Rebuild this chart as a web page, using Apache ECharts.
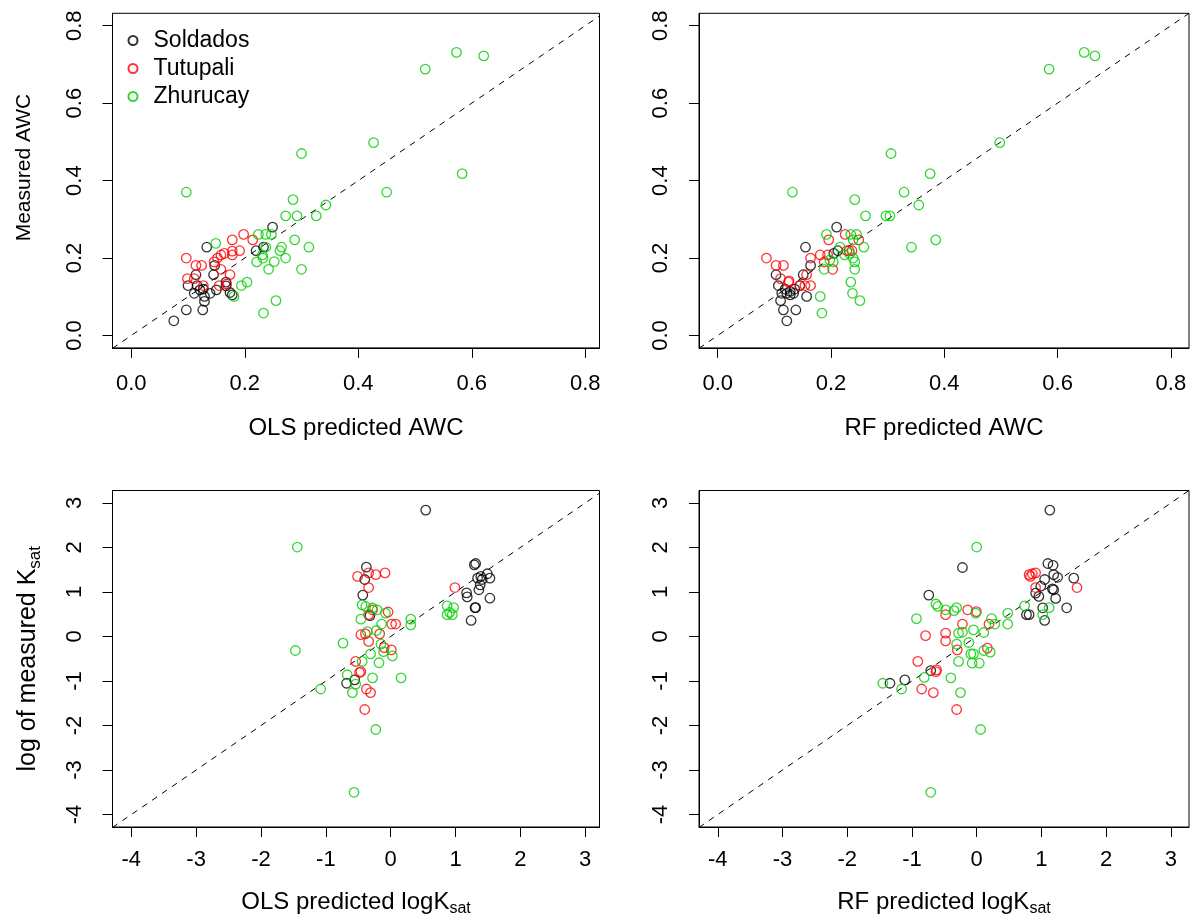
<!DOCTYPE html>
<html><head><meta charset="utf-8">
<script src="https://cdn.jsdelivr.net/npm/echarts@6/dist/echarts.min.js"></script>
<style>html,body{margin:0;padding:0;background:#fff}#c{width:1192px;height:920px}</style>
</head><body><div id="c"></div>
<script>
const sites = ['Soldados', 'Tutupali', 'Zhurucay'];
const siteColors = ['#000000', '#FF0000', '#00CD00'];
const awcTicks = [0, 0.2, 0.4, 0.6, 0.8];
const kTicks = [-4, -3, -2, -1, 0, 1, 2, 3];
const awcRangeY = [-0.032, 0.832];
const kRangeY = [-4.28, 3.28];
const awcRangeXLeft = [-0.033, 0.825];
const awcRangeXRight = [-0.033, 0.832];
const kRangeXLeft = [-4.29, 3.22];
const kRangeXRight = [-4.29, 3.28];

// Panel 1: OLS predicted AWC (x) vs measured AWC (y)
const olsAwcSoldados = [[0.249,0.280],[0.220,0.219],[0.233,0.228],[0.133,0.228],[0.147,0.181],[0.114,0.157],[0.145,0.157],[0.167,0.138],[0.100,0.129],[0.116,0.129],[0.127,0.120],[0.139,0.109],[0.111,0.109],[0.129,0.101],[0.129,0.088],[0.174,0.111],[0.178,0.105],[0.097,0.066],[0.126,0.066],[0.075,0.038],[0.167,0.128],[0.121,0.118],[0.150,0.118]];
const olsAwcTutupali = [[0.097,0.200],[0.178,0.247],[0.198,0.261],[0.214,0.247],[0.114,0.181],[0.124,0.181],[0.099,0.147],[0.111,0.147],[0.152,0.200],[0.158,0.208],[0.164,0.212],[0.178,0.218],[0.191,0.219],[0.178,0.208],[0.158,0.171],[0.174,0.157],[0.146,0.190],[0.127,0.129],[0.155,0.129],[0.168,0.133]];
const olsAwcZhurucay = [[0.573,0.731],[0.621,0.722],[0.518,0.688],[0.427,0.498],[0.300,0.470],[0.583,0.418],[0.097,0.370],[0.450,0.370],[0.285,0.351],[0.343,0.337],[0.272,0.309],[0.292,0.309],[0.326,0.309],[0.224,0.261],[0.237,0.261],[0.247,0.261],[0.149,0.238],[0.288,0.247],[0.313,0.228],[0.237,0.228],[0.265,0.228],[0.262,0.219],[0.231,0.208],[0.221,0.190],[0.232,0.200],[0.252,0.191],[0.272,0.200],[0.242,0.171],[0.300,0.171],[0.204,0.138],[0.194,0.129],[0.181,0.101],[0.255,0.090],[0.233,0.058]];

// Panel 2: RF predicted AWC (x) vs measured AWC (y)
const rfAwcSoldados = [[0.210,0.280],[0.155,0.228],[0.212,0.219],[0.205,0.212],[0.103,0.157],[0.151,0.157],[0.164,0.181],[0.107,0.129],[0.119,0.120],[0.128,0.114],[0.134,0.109],[0.122,0.109],[0.136,0.120],[0.145,0.129],[0.157,0.101],[0.111,0.090],[0.116,0.066],[0.138,0.066],[0.122,0.038],[0.128,0.105],[0.113,0.109]];
const rfAwcTutupali = [[0.086,0.200],[0.103,0.181],[0.116,0.181],[0.111,0.147],[0.125,0.138],[0.196,0.247],[0.225,0.261],[0.249,0.247],[0.164,0.200],[0.181,0.208],[0.194,0.208],[0.188,0.190],[0.203,0.171],[0.232,0.219],[0.237,0.219],[0.157,0.157],[0.145,0.129],[0.164,0.129],[0.154,0.129],[0.126,0.141],[0.228,0.219]];
const rfAwcZhurucay = [[0.647,0.731],[0.666,0.722],[0.585,0.688],[0.498,0.498],[0.306,0.470],[0.375,0.418],[0.132,0.370],[0.329,0.370],[0.242,0.351],[0.355,0.337],[0.261,0.309],[0.297,0.309],[0.304,0.309],[0.192,0.261],[0.235,0.261],[0.245,0.261],[0.385,0.247],[0.342,0.228],[0.258,0.228],[0.216,0.228],[0.239,0.247],[0.233,0.212],[0.224,0.208],[0.239,0.200],[0.204,0.190],[0.242,0.190],[0.188,0.171],[0.242,0.171],[0.235,0.138],[0.238,0.109],[0.251,0.090],[0.181,0.101],[0.184,0.058],[0.198,0.195]];

// Panel 3: OLS predicted logKsat (x) vs log of measured Ksat (y)
const olsKSoldados = [[0.54,2.84],[1.29,1.61],[1.31,1.64],[1.49,1.41],[1.34,1.31],[1.41,1.28],[1.53,1.31],[1.38,1.16],[1.36,1.05],[1.17,0.98],[1.18,0.89],[1.53,0.86],[1.30,0.65],[1.31,0.65],[1.24,0.36],[1.39,1.35],[-0.375,1.56],[-0.40,1.28],[-0.43,0.93],[-0.32,0.47],[-0.68,-1.05],[-0.555,-0.975]];
const olsKTutupali = [[-0.51,1.35],[-0.34,1.43],[-0.23,1.39],[-0.087,1.43],[-0.34,1.10],[0.99,1.10],[-0.28,0.60],[-0.04,0.55],[-0.34,0.49],[0.015,0.28],[0.077,0.28],[-0.46,0.04],[-0.39,0.06],[-0.17,0.06],[-0.34,-0.11],[-0.10,-0.25],[0.01,-0.30],[-0.54,-0.56],[-0.46,-0.79],[-0.48,-0.81],[-0.375,-1.18],[-0.31,-1.26],[-0.40,-1.64]];
const olsKZhurucay = [[-1.44,2.01],[-1.47,-0.315],[-0.44,0.71],[-0.385,0.675],[-0.28,0.64],[-0.21,0.60],[-0.08,0.525],[-0.46,0.39],[-0.14,0.28],[0.31,0.39],[0.31,0.26],[-0.36,0.11],[-0.22,0.135],[-0.735,-0.15],[-0.15,-0.17],[-0.11,-0.34],[0.026,-0.435],[-0.31,-0.39],[-0.44,-0.56],[-0.18,-0.59],[-0.67,-0.86],[-0.28,-0.93],[0.16,-0.93],[-1.08,-1.18],[-0.54,-1.07],[-0.59,-1.26],[-0.23,-2.09],[-0.565,-3.50],[0.87,0.69],[0.97,0.65],[0.87,0.49],[0.95,0.49],[0.91,0.54]];

// Panel 4: RF predicted logKsat (x) vs log of measured Ksat (y)
const rfKSoldados = [[1.13,2.84],[1.10,1.64],[1.18,1.60],[-0.22,1.55],[1.19,1.39],[1.25,1.33],[1.05,1.28],[1.50,1.31],[0.99,1.13],[1.17,1.07],[1.19,1.05],[0.91,0.975],[0.96,0.90],[1.22,0.855],[-0.74,0.93],[1.02,0.645],[1.39,0.645],[0.77,0.49],[0.81,0.49],[1.05,0.36],[-0.71,-0.765],[-1.11,-0.975],[-1.34,-1.05]];
const rfKTutupali = [[0.81,1.39],[0.86,1.41],[0.91,1.43],[0.83,1.35],[0.91,1.10],[1.55,1.10],[-0.14,0.60],[-0.005,0.56],[-0.48,0.49],[-0.22,0.28],[0.19,0.28],[-0.79,0.02],[-0.48,0.075],[-0.48,-0.10],[-0.30,-0.30],[0.165,-0.26],[-0.91,-0.56],[-0.63,-0.79],[-0.62,-0.75],[-0.85,-1.18],[-0.67,-1.26],[-0.31,-1.64]];
const rfKZhurucay = [[0.0,2.01],[-1.45,-1.05],[-0.63,0.73],[-0.60,0.675],[-0.48,0.60],[-0.35,0.58],[-0.31,0.65],[-0.015,0.525],[-0.93,0.40],[0.23,0.40],[0.48,0.525],[0.74,0.69],[1.12,0.65],[1.02,0.49],[0.48,0.28],[0.28,0.28],[-0.05,0.15],[0.11,0.09],[-0.28,0.075],[-0.22,0.10],[-0.12,-0.135],[-0.31,-0.17],[0.11,-0.315],[0.21,-0.35],[-0.09,-0.39],[-0.05,-0.39],[-0.28,-0.56],[-0.07,-0.60],[0.04,-0.60],[-0.40,-0.93],[-0.81,-0.92],[-1.16,-1.18],[-0.25,-1.26],[0.06,-2.09],[-0.71,-3.50]];

const FONT = '"Liberation Sans", Arial, sans-serif';

const panels = [
  {grid:{left:112.5, top:13.3, width:487, height:334.6}, xRange:awcRangeXLeft, yRange:awcRangeY, ticks:awcTicks, fmt:v=>v.toFixed(1),
   data:[olsAwcSoldados, olsAwcTutupali, olsAwcZhurucay], xName:'OLS predicted AWC', yName:'Measured AWC',
   xLabelMargin:25, xNameGap:68, yLabelMargin:27, yNameGap:78, yNameSize:21, yNamePad:[0,0,0,26]},
  {grid:{left:699, top:13.3, width:490, height:334.6}, xRange:awcRangeXRight, yRange:awcRangeY, ticks:awcTicks, fmt:v=>v.toFixed(1),
   data:[rfAwcSoldados, rfAwcTutupali, rfAwcZhurucay], xName:'RF predicted AWC', yName:'',
   xLabelMargin:25, xNameGap:68, yLabelMargin:27, yNameGap:78, yNameSize:21, yNamePad:[0,0,0,0]},
  {grid:{left:112.5, top:490.5, width:487, height:336.5}, xRange:kRangeXLeft, yRange:kRangeY, ticks:kTicks, fmt:v=>String(v),
   data:[olsKSoldados, olsKTutupali, olsKZhurucay], xName:'OLS predicted logK{sub|sat}', yName:'log of measured K{sub|sat}',
   xLabelMargin:22, xNameGap:63, yLabelMargin:27, yNameGap:72, yNameSize:25, yNamePad:[0,0,0,0]},
  {grid:{left:699, top:490.5, width:490, height:336.5}, xRange:kRangeXRight, yRange:kRangeY, ticks:kTicks, fmt:v=>String(v),
   data:[rfKSoldados, rfKTutupali, rfKZhurucay], xName:'RF predicted logK{sub|sat}', yName:'',
   xLabelMargin:22, xNameGap:63, yLabelMargin:27, yNameGap:72, yNameSize:25, yNamePad:[0,0,0,0]}
];

function richFor(size) {
  return {sub:{fontSize:Math.round(size*0.68), fontFamily:FONT, color:'#000', verticalAlign:'bottom', padding:[0,0,-3,0]}};
}

const grids = [], xAxes = [], yAxes = [], series = [];
panels.forEach((p, i) => {
  grids.push(Object.assign({show:true, borderColor:'#000', borderWidth:1, backgroundColor:'transparent', containLabel:false, outerBoundsMode:'none'}, p.grid));
  const common = (ticks, fmt, margin, rotate) => ({
    axisLine:{show:true, onZero:false, lineStyle:{color:'#000', width:1}},
    axisTick:{show:true, inside:false, length:10, customValues:ticks, lineStyle:{color:'#000', width:1}},
    axisLabel:{show:true, customValues:ticks, formatter:fmt, margin:margin, rotate:rotate, color:'#000', fontSize:22, fontFamily:FONT},
    splitLine:{show:false}
  });
  xAxes.push(Object.assign({type:'value', gridIndex:i, min:p.xRange[0], max:p.xRange[1],
    name:p.xName, nameLocation:'middle', nameGap:p.xNameGap,
    nameTextStyle:{fontSize:24, color:'#000', fontFamily:FONT, rich:richFor(24)}}, common(p.ticks, p.fmt, p.xLabelMargin, 0)));
  yAxes.push(Object.assign({type:'value', gridIndex:i, min:p.yRange[0], max:p.yRange[1],
    name:p.yName, nameLocation:'middle', nameGap:p.yNameGap,
    nameTextStyle:{fontSize:p.yNameSize, color:'#000', fontFamily:FONT, padding:p.yNamePad, rich:richFor(p.yNameSize)}}, common(p.ticks, p.fmt, p.yLabelMargin, 90)));
  const lo = Math.min(p.xRange[0], p.yRange[0]), hi = Math.max(p.xRange[1], p.yRange[1]);
  series.push({type:'line', xAxisIndex:i, yAxisIndex:i, data:[[lo, lo], [hi, hi]],
    symbol:'none', silent:true, clip:true, lineStyle:{color:'#000', width:1, type:[6, 6]}, z:1});
  p.data.forEach((d, s) => {
    series.push({type:'scatter', name:sites[s], xAxisIndex:i, yAxisIndex:i, data:d, symbol:'circle', symbolSize:9.5,
      itemStyle:{color:'rgba(0,0,0,0)', borderColor:siteColors[s], borderWidth:1.3}, z:2});
  });
});

const chart = echarts.init(document.getElementById('c'), null, {renderer:'canvas'});
chart.setOption({
  animation:false,
  backgroundColor:'#fff',
  legend:{data:sites, orient:'vertical', left:127.5, top:26.5, padding:0, itemWidth:9, itemHeight:9, itemGap:0, icon:'circle',
    selectedMode:false,
    textStyle:{fontSize:23, fontFamily:FONT, color:'#000', lineHeight:23, padding:[5,0,0,11]}},
  grid:grids, xAxis:xAxes, yAxis:yAxes, series:series
});
</script></body></html>
